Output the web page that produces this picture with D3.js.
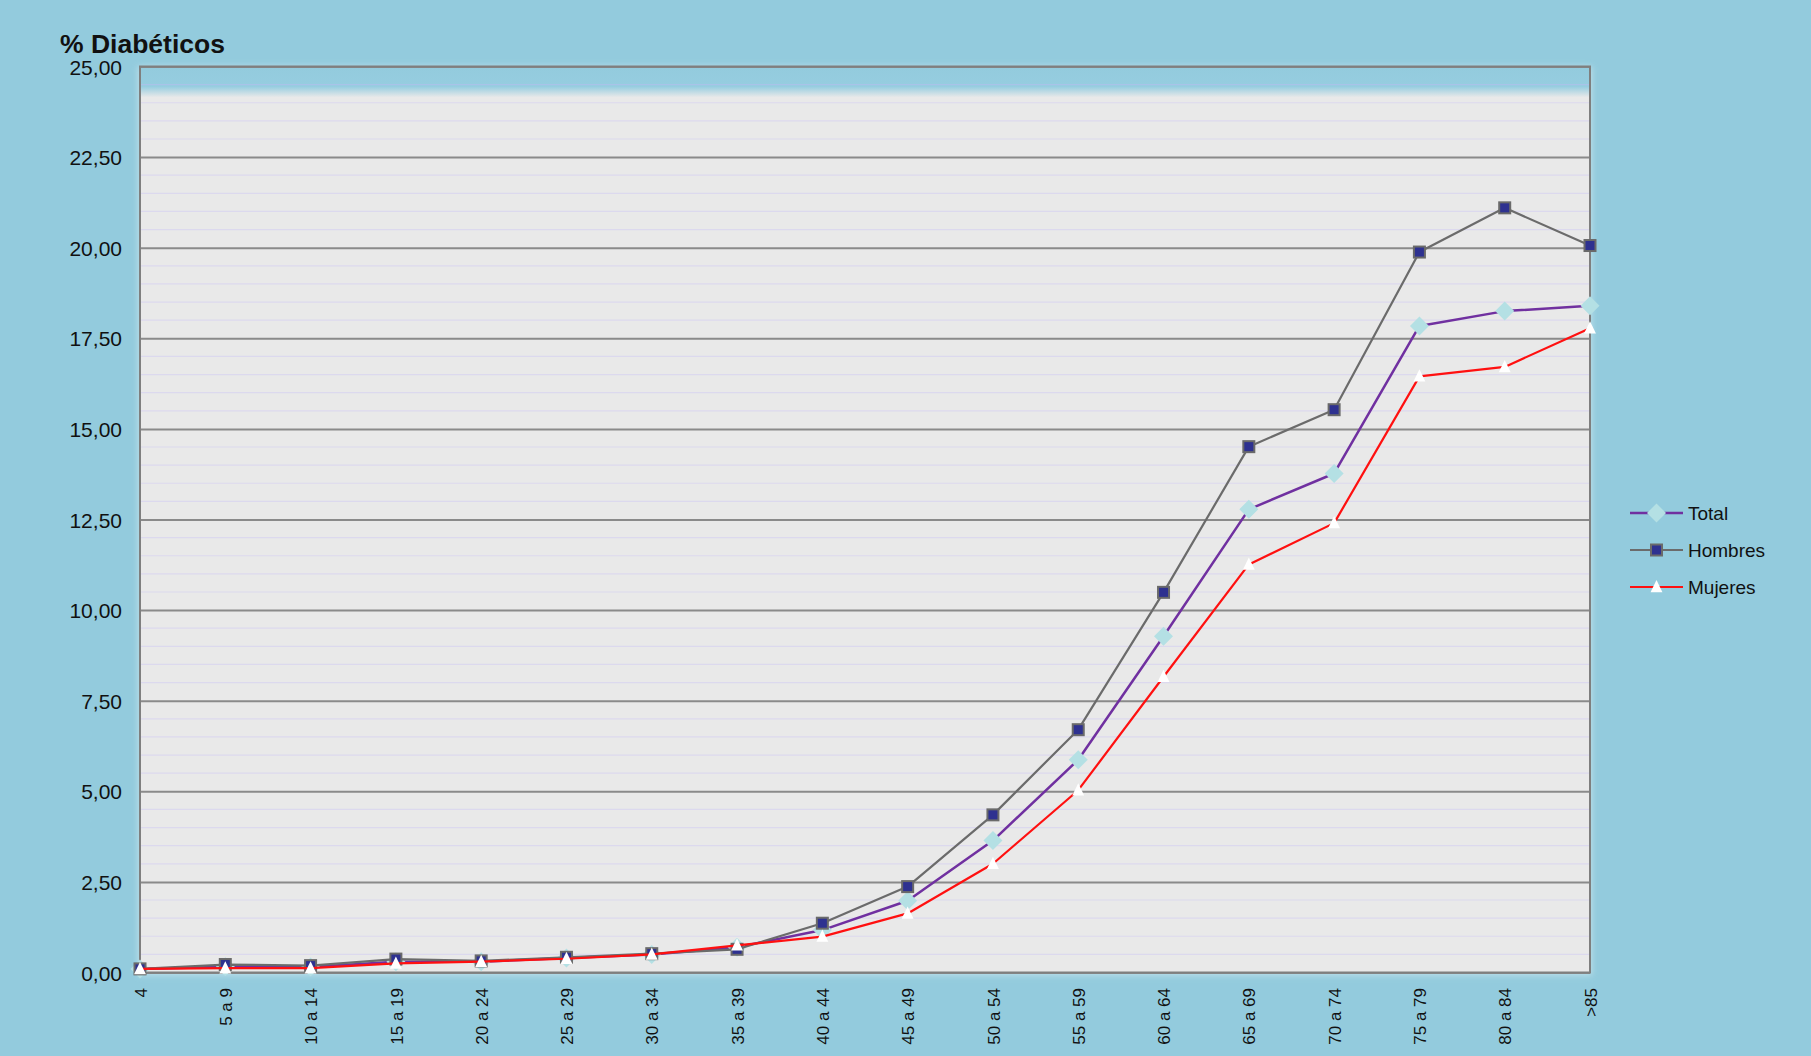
<!DOCTYPE html>
<html>
<head>
<meta charset="utf-8">
<script src="https://cdn.jsdelivr.net/npm/d3@7"></script>
<style>
  html, body { margin: 0; padding: 0; background: #93cbdd; }
  svg { display: block; font-family: "Liberation Sans", Arial, sans-serif; }
</style>
</head>
<body>
<svg id="chart" width="1811" height="1056"></svg>
<script>
const categories = ["4", "5 a 9", "10 a 14", "15 a 19", "20 a 24", "25 a 29", "30 a 34", "35 a 39",
  "40 a 44", "45 a 49", "50 a 54", "55 a 59", "60 a 64", "65 a 69", "70 a 74", "75 a 79", "80 a 84", ">85"];
const total   = [0.10, 0.16, 0.15, 0.30, 0.30, 0.40, 0.50, 0.70, 1.17, 1.98, 3.64, 5.87, 9.28, 12.78, 13.77, 17.84, 18.25, 18.40];
const hombres = [0.10, 0.22, 0.19, 0.37, 0.32, 0.42, 0.52, 0.64, 1.36, 2.37, 4.35, 6.70, 10.49, 14.51, 15.53, 19.88, 21.10, 20.06];
const mujeres = [0.10, 0.12, 0.12, 0.25, 0.30, 0.38, 0.50, 0.75, 0.99, 1.63, 3.00, 5.03, 8.16, 11.26, 12.40, 16.45, 16.71, 17.78];
const yTicks  = [0, 2.5, 5, 7.5, 10, 12.5, 15, 17.5, 20, 22.5, 25];
const seriesNames = ["Total", "Hombres", "Mujeres"];

const svg = d3.select("#chart");
const W = 1811, H = 1056;
const L = 140, R = 1590, T = 66.5, B = 972.5;

svg.append("rect").attr("width", W).attr("height", H).attr("fill", "#93cbdd");

const x = d3.scalePoint().domain(categories).range([L, R]);
const y = d3.scaleLinear().domain([0, 25]).range([B, T]);

const defs = svg.append("defs");
const grad = defs.append("linearGradient").attr("id", "plotbg")
  .attr("x1", 0).attr("y1", 0).attr("x2", 0).attr("y2", 1);
grad.append("stop").attr("offset", 0).attr("stop-color", "#93cbdd");
grad.append("stop").attr("offset", 0.022).attr("stop-color", "#96cde0");
grad.append("stop").attr("offset", 0.034).attr("stop-color", "#e9e9e9");
grad.append("stop").attr("offset", 1).attr("stop-color", "#e9e9e9");

const blur = defs.append("filter").attr("id", "glow").attr("x", -0.05).attr("y", -0.05).attr("width", 1.1).attr("height", 1.1);
blur.append("feGaussianBlur").attr("stdDeviation", 3);

// soft glow around plot
svg.append("rect").attr("x", L - 2).attr("y", T).attr("width", R - L + 4).attr("height", B - T + 3)
  .attr("fill", "#d8ecf2").attr("opacity", 0.6).attr("filter", "url(#glow)");
svg.append("rect").attr("x", L).attr("y", T).attr("width", R - L).attr("height", B - T)
  .attr("fill", "url(#plotbg)");

// minor gridlines every 0.5
const minor = d3.range(0.5, 25, 0.5).filter(v => Math.abs(v / 2.5 - Math.round(v / 2.5)) > 1e-6);
svg.append("g").selectAll("line").data(minor).join("line")
  .attr("x1", L).attr("x2", R)
  .attr("y1", d => y(d)).attr("y2", d => y(d))
  .attr("stroke", d => d > 24 ? "#a9c3e8" : "#dcd9ee").attr("stroke-width", 1.2);

// major gridlines via axis
const yAxisGrid = d3.axisLeft(y).tickValues(yTicks).tickSize(-(R - L)).tickFormat("");
const gGrid = svg.append("g").attr("transform", `translate(${L},0)`).call(yAxisGrid);
gGrid.select(".domain").remove();
gGrid.selectAll("line").attr("stroke", "#8a8a8a").attr("stroke-width", 2);

// plot frame
svg.append("rect").attr("x", L).attr("y", T).attr("width", R - L).attr("height", B - T)
  .attr("fill", "none").attr("stroke", "#7f7f7f").attr("stroke-width", 2);

// y labels
const fmt = d => d.toFixed(2).replace(".", ",");
const yAxis = d3.axisLeft(y).tickValues(yTicks).tickSize(0).tickPadding(0).tickFormat(fmt);
const gY = svg.append("g").attr("transform", `translate(122,0)`).call(yAxis);
gY.select(".domain").remove();
gY.selectAll("text").attr("font-size", 21).attr("fill", "#111").attr("font-family", "Liberation Sans, Arial, sans-serif")
  .attr("dy", "0.36em");

// x labels
const xAxis = d3.axisBottom(x).tickSize(0).tickPadding(0);
const gX = svg.append("g").attr("transform", `translate(0,988)`).call(xAxis);
gX.select(".domain").remove();
gX.selectAll("text")
  .attr("font-size", 17).attr("fill", "#111").attr("font-family", "Liberation Sans, Arial, sans-serif")
  .attr("text-anchor", "end").attr("transform", "rotate(-90)")
  .attr("x", 0).attr("y", 0).attr("dy", "0.36em");

// title
svg.append("text").attr("x", 60).attr("y", 53).text("% Diabéticos")
  .attr("font-size", 26.5).attr("font-weight", "bold").attr("fill", "#111");

// series
const styles = {
  Total:   { color: "#7030a0", width: 2.5, data: total },
  Hombres: { color: "#6b6b6b", width: 2.2, data: hombres },
  Mujeres: { color: "#ff1010", width: 2.2, data: mujeres }
};
const line = d3.line().x((d, i) => x(categories[i])).y(d => y(d));

function drawMarker(g, name, cx, cy) {
  if (name === "Total") {
    const s = 9.5;
    g.append("path").attr("d", `M${cx},${cy - s}L${cx + s},${cy}L${cx},${cy + s}L${cx - s},${cy}Z`)
      .attr("fill", "#b4e0e4");
  } else if (name === "Hombres") {
    const s = 5.5;
    g.append("rect").attr("x", cx - s).attr("y", cy - s).attr("width", 2 * s).attr("height", 2 * s)
      .attr("fill", "#2e3190").attr("stroke", "#6a6a6a").attr("stroke-width", 2);
  } else {
    const s = 7;
    g.append("path").attr("d", `M${cx},${cy - s}L${cx + s * 0.85},${cy + s * 0.75}L${cx - s * 0.85},${cy + s * 0.75}Z`)
      .attr("fill", "#ffffff");
  }
}

seriesNames.forEach(name => {
  const st = styles[name];
  const g = svg.append("g");
  g.append("path").datum(st.data).attr("d", line)
    .attr("fill", "none").attr("stroke", st.color).attr("stroke-width", st.width).attr("stroke-linejoin", "round");
  st.data.forEach((v, i) => drawMarker(g, name, x(categories[i]), y(v)));
});

// legend
const legendY = [513, 550, 587];
seriesNames.forEach((name, i) => {
  const st = styles[name];
  const g = svg.append("g");
  const ly = legendY[i];
  g.append("line").attr("x1", 1630).attr("x2", 1683).attr("y1", ly).attr("y2", ly)
    .attr("stroke", st.color).attr("stroke-width", st.width);
  drawMarker(g, name, 1656.5, ly);
  g.append("text").attr("x", 1688).attr("y", ly).attr("dy", "0.36em").text(name)
    .attr("font-size", 19).attr("fill", "#111");
});
</script>
</body>
</html>
